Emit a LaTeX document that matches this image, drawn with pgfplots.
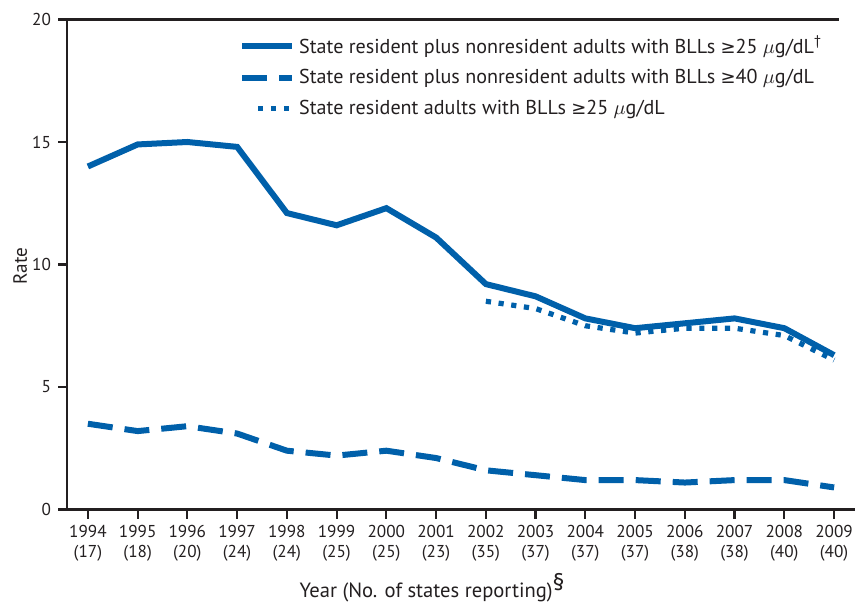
\documentclass[border=0pt]{standalone}
\usepackage{pgfplots}
\pgfplotsset{compat=1.18}
\usepackage{fontspec}
\setmainfont{PT Sans}
\newfontfamily\symfont{DejaVu Sans}
\definecolor{cdcblue}{RGB}{0,96,170}
\definecolor{axisgray}{RGB}{35,31,32}
\newcommand{\GEsym}{{\symfont\fontsize{9}{10}\selectfont ≥}}
\pgfplotsset{shortdot legend/.style={legend image code/.code={\draw[##1] (8pt,0pt) -- (25pt,0pt);}}}
\begin{document}
\begin{tikzpicture}
\begin{axis}[
  width=394pt, height=245pt, scale only axis,
  xmin=1993.58, xmax=2009.42, ymin=0, ymax=20,
  axis x line*=bottom, axis y line*=left,
  axis line style={axisgray, line width=1.1pt},
  every tick/.style={axisgray, line width=1.1pt},
  major tick length=4.5pt,
  tick align=outside,
  xtick={1994,...,2009},
  xticklabels={{1994\\(17)},{1995\\(18)},{1996\\(20)},{1997\\(24)},{1998\\(24)},{1999\\(25)},{2000\\(25)},{2001\\(23)},{2002\\(35)},{2003\\(37)},{2004\\(37)},{2005\\(37)},{2006\\(38)},{2007\\(38)},{2008\\(40)},{2009\\(40)}},
  xticklabel style={align=center, font=\fontsize{8.6}{9.6}\selectfont, text=axisgray},
  ytick={0,5,10,15,20},
  yticklabel style={font=\fontsize{8.6}{9.6}\selectfont, text=axisgray},
  /pgf/number format/assume math mode=true,
  xlabel={Year (No. of states reporting)\textsuperscript{\large\S}},
  xlabel style={font=\fontsize{10.3}{11}\selectfont, text=axisgray,
    at={(rel axis cs:0.464,0)}, anchor=base, yshift=-44pt},
  ylabel={Rate},
  ylabel style={font=\fontsize{9.6}{11}\selectfont, text=axisgray,
    at={(rel axis cs:-0.05,0.497)}, anchor=south, rotate=0, inner sep=0pt},
  clip=false,
  legend style={draw=none, fill=none, at={(0.218,1)}, anchor=north west,
    yshift=-6pt, inner sep=0pt,
    font=\fontsize{10.05}{11}\selectfont, text=axisgray, row sep=2.6pt,
    legend cell align=left},
  legend image code/.code={\draw[#1] (0pt,0pt) -- (25pt,0pt);},
]
\coordinate (sw) at (rel axis cs:0,0);
\coordinate (ne) at (rel axis cs:1,1);
\draw[axisgray, line width=1.1pt] (rel axis cs:0,1) -- (rel axis cs:0.98,1);
\addplot[cdcblue, line width=3pt] coordinates {
 (1994,14.0) (1995,14.9) (1996,15.0) (1997,14.8) (1998,12.1) (1999,11.6)
 (2000,12.3) (2001,11.1) (2002,9.2) (2003,8.7) (2004,7.8) (2005,7.4)
 (2006,7.6) (2007,7.8) (2008,7.4) (2009,6.3)};
\addlegendentry{State resident plus nonresident adults with BLLs \GEsym25 $\mu$g/dL\textsuperscript{\dag}}
\addplot[cdcblue, line width=3pt, dash pattern=on 12.5pt off 6pt] coordinates {
 (1994,3.5) (1995,3.2) (1996,3.4) (1997,3.1) (1998,2.4) (1999,2.2)
 (2000,2.4) (2001,2.1) (2002,1.6) (2003,1.4) (2004,1.2) (2005,1.2)
 (2006,1.1) (2007,1.2) (2008,1.2) (2009,0.9)};
\addlegendentry{State resident plus nonresident adults with BLLs \GEsym40 $\mu$g/dL}
\addplot[cdcblue, line width=2.6pt, dash pattern=on 2.6pt off 3.8pt, shortdot legend] coordinates {
 (2002,8.5) (2003,8.2) (2004,7.5) (2005,7.2) (2006,7.4) (2007,7.4)
 (2008,7.1) (2009,6.1)};
\addlegendentry{State resident adults with BLLs \GEsym25 $\mu$g/dL}
\end{axis}
\pgfresetboundingbox
\path (sw) ++(-33.5pt,-47pt) coordinate (bl);
\path (ne) ++(0pt,9.75pt) coordinate (tr);
\path (bl) rectangle (tr);
\end{tikzpicture}
\end{document}
